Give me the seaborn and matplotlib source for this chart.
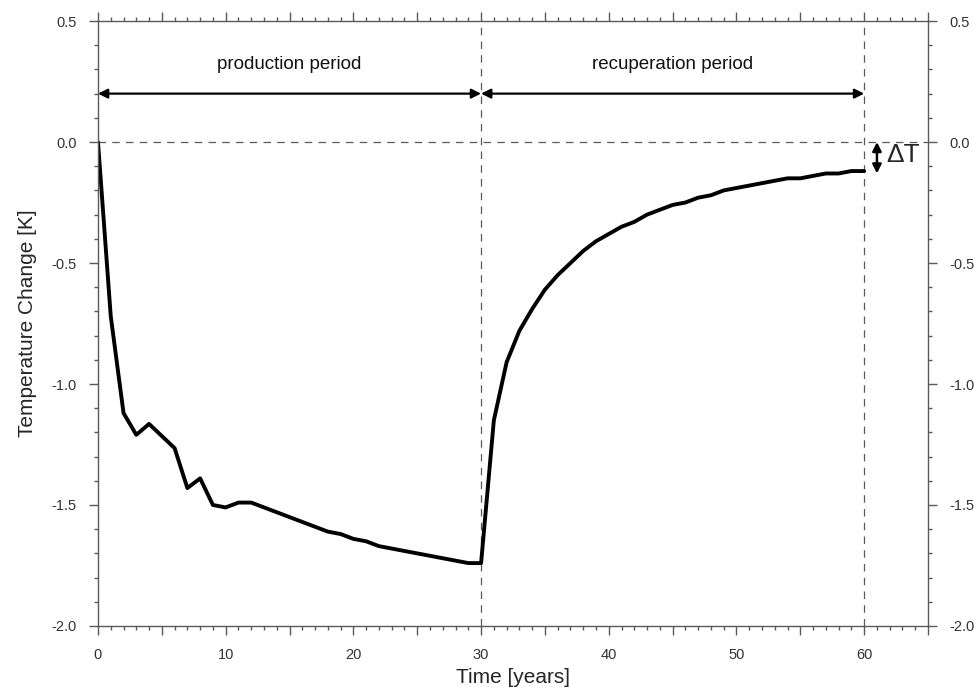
import matplotlib
matplotlib.use("Agg")
import matplotlib.pyplot as plt
from matplotlib.ticker import MultipleLocator, FuncFormatter
import pandas as pd
import seaborn as sns

# years since start of production
years = list(range(0, 61))

# temperature change [K]
production = [0.00, -0.72, -1.12, -1.21, -1.165, -1.215, -1.265, -1.43, -1.39, -1.50,
              -1.51, -1.49, -1.49, -1.51, -1.53, -1.55, -1.57, -1.59, -1.61, -1.62,
              -1.64, -1.65, -1.67, -1.68, -1.69, -1.70, -1.71, -1.72, -1.73, -1.74]
recuperation = [-1.74, -1.15, -0.91, -0.78, -0.69, -0.61, -0.55, -0.50, -0.45, -0.41,
                -0.38, -0.35, -0.33, -0.30, -0.28, -0.26, -0.25, -0.23, -0.22, -0.20,
                -0.19, -0.18, -0.17, -0.16, -0.15, -0.15, -0.14, -0.13, -0.13, -0.12,
                -0.12]

period_bounds = [0, 30, 60]
period_labels = ["production period", "recuperation period"]
delta_t_x = 61
delta_t_value = recuperation[-1]

df = pd.DataFrame({"year": years, "dT": production + recuperation})

sns.set_style("ticks")
plt.rcParams["font.family"] = ["Liberation Sans", "DejaVu Sans"]
plt.rcParams["axes.unicode_minus"] = False

grey = "#5a5a5a"
fig = plt.figure(figsize=(9.74, 6.87), dpi=100)
ax = fig.add_axes([0.1006, 0.0888, 0.8522, 0.8806])

sns.lineplot(data=df, x="year", y="dT", color="black", linewidth=2.8, ax=ax)

# reference lines
ax.axhline(0, color=grey, linestyle=(0, (6, 5)), linewidth=0.9, zorder=1)
for xv in period_bounds[1:]:
    ax.axvline(xv, color=grey, linestyle=(0, (6, 5)), linewidth=0.9, zorder=1)

# period arrows and labels
for (x0, x1), label in zip(zip(period_bounds[:-1], period_bounds[1:]), period_labels):
    ax.annotate("", xy=(x0, 0.2), xytext=(x1, 0.2),
                arrowprops=dict(arrowstyle="<|-|>", color="black", lw=1.6,
                                mutation_scale=14, shrinkA=0, shrinkB=0))
    ax.text((x0 + x1) / 2, 0.32, label, ha="center", va="center", fontsize=13.5,
            color="#111111")

# delta T marker
ax.annotate("", xy=(delta_t_x, 0), xytext=(delta_t_x, delta_t_value - 0.01),
            arrowprops=dict(arrowstyle="<|-|>", color="black", lw=1.8,
                            mutation_scale=13, shrinkA=0, shrinkB=0))
ax.text(delta_t_x + 0.75, -0.055, "ΔT", ha="left", va="center", fontsize=19)

ax.set_xlim(0, 65)
ax.set_ylim(-2.0, 0.5)
ax.xaxis.set_major_locator(MultipleLocator(5))
ax.xaxis.set_minor_locator(MultipleLocator(1))
ax.xaxis.set_major_formatter(FuncFormatter(lambda v, p: f"{v:.0f}" if v % 10 == 0 and v <= 60 else ""))
ax.yaxis.set_major_locator(MultipleLocator(0.5))
ax.yaxis.set_minor_locator(MultipleLocator(0.1))
ax.yaxis.set_major_formatter(FuncFormatter(lambda v, p: f"{v:.1f}"))

for side in ["left", "right", "top", "bottom"]:
    ax.spines[side].set_visible(True)
    ax.spines[side].set_color(grey)
    ax.spines[side].set_linewidth(1.0)

ax.tick_params(which="both", direction="out", colors=grey, labelcolor="#333333",
               top=True, right=True, labelright=True, labelsize=10.5, width=1.0)
ax.tick_params(which="major", length=6.5)
ax.tick_params(which="minor", length=3)
ax.tick_params(axis="x", which="major", pad=9)
ax.tick_params(axis="y", which="major", pad=9)

ax.set_xlabel("Time [years]", fontsize=15, labelpad=5)
ax.set_ylabel("Temperature Change [K]", fontsize=15, labelpad=10)

fig.savefig("out.png", dpi=100)
